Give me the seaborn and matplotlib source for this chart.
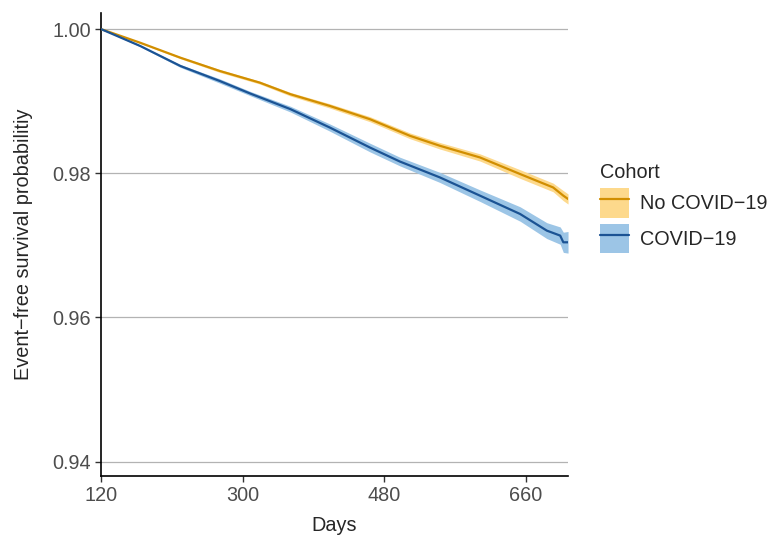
import numpy as np
import pandas as pd
import matplotlib
matplotlib.use("Agg")
import matplotlib.pyplot as plt
import seaborn as sns
from matplotlib.patches import Patch
from matplotlib.lines import Line2D

# values
days_no = [120, 170, 221, 271, 322, 361, 411, 462, 513, 551, 602, 653, 695, 708, 714]
surv_no = [1.0, 0.99810, 0.99603, 0.99419, 0.99257, 0.99096, 0.98934, 0.98750,
           0.98519, 0.98381, 0.98219, 0.97989, 0.97803, 0.97689, 0.97643]
half_no = [0.0, 0.0001, 0.00015, 0.0002, 0.0002, 0.00025, 0.0003, 0.00035,
           0.0004, 0.00045, 0.0005, 0.0006, 0.0006, 0.0007, 0.0007]

days_cv = [120, 170, 221, 271, 310, 361, 411, 462, 500, 551, 602, 653, 687, 704, 708, 714]
surv_cv = [1.0, 0.99765, 0.99488, 0.99280, 0.99105, 0.98889, 0.98634, 0.98357,
           0.98163, 0.97942, 0.97689, 0.97435, 0.97204, 0.97135, 0.97042, 0.97042]
half_cv = [0.0, 0.0001, 0.0002, 0.0003, 0.0003, 0.0004, 0.0005, 0.0006,
           0.0006, 0.0007, 0.0008, 0.0010, 0.0011, 0.0012, 0.0014, 0.0015]

cohorts = ["No COVID\u221219", "COVID\u221219"]
line_cols = {"No COVID\u221219": "#D18E00", "COVID\u221219": "#1B5394"}
fill_cols = {"No COVID\u221219": "#FDD98C", "COVID\u221219": "#9CC5E6"}

df = pd.concat([
    pd.DataFrame({"Days": days_no, "surv": surv_no, "half": half_no, "Cohort": cohorts[0]}),
    pd.DataFrame({"Days": days_cv, "surv": surv_cv, "half": half_cv, "Cohort": cohorts[1]}),
])

sns.set_style("white")
plt.rcParams['font.family'] = ['Liberation Sans', 'DejaVu Sans']

fig = plt.figure(figsize=(7.72, 5.35), dpi=100)
ax = fig.add_axes([0.1308, 0.1103, 0.6050, 0.8650])

for c in cohorts:
    d = df[df["Cohort"] == c]
    ax.fill_between(d["Days"], d["surv"] - d["half"], d["surv"] + d["half"],
                    color=fill_cols[c], lw=0, zorder=2)

sns.lineplot(data=df, x="Days", y="surv", hue="Cohort", palette=line_cols,
             linewidth=1.6, ax=ax, legend=False, zorder=3)

ax.set_xlim(120, 714)
ax.set_ylim(0.938, 1.0022)
ax.set_xticks([120, 300, 480, 660])
ax.set_yticks([0.94, 0.96, 0.98, 1.00])
ax.set_yticklabels(["0.94", "0.96", "0.98", "1.00"])
ax.yaxis.grid(True, color="#B3B3B3", linewidth=0.9, zorder=0)
ax.xaxis.grid(False)
ax.set_axisbelow(True)

for s in ["top", "right"]:
    ax.spines[s].set_visible(False)
for s in ["left", "bottom"]:
    ax.spines[s].set_color("black")
    ax.spines[s].set_linewidth(1.2)

ax.tick_params(axis="both", length=4, width=1, color="#333333",
               labelsize=14.3, labelcolor="#4D4D4D", pad=3, direction="out",
               left=True, bottom=True)
ax.set_xlabel("Days", fontsize=14.3, labelpad=8)
ax.set_ylabel("Event\u2212free survival probabilitiy", fontsize=14.3, labelpad=14)

handles = [(Patch(facecolor=fill_cols[c], edgecolor="none"),
            Line2D([], [], color=line_cols[c], lw=1.6)) for c in cohorts]
leg = fig.legend(handles, cohorts, title="Cohort", loc="upper left",
                 bbox_to_anchor=(0.767, 0.711), frameon=False, fontsize=14.3,
                 title_fontsize=14.3, handlelength=1.45, handleheight=1.9,
                 handletextpad=0.55, labelspacing=0.33, borderaxespad=0)
leg._legend_box.align = "left"

fig.savefig("out.png", dpi=100)
